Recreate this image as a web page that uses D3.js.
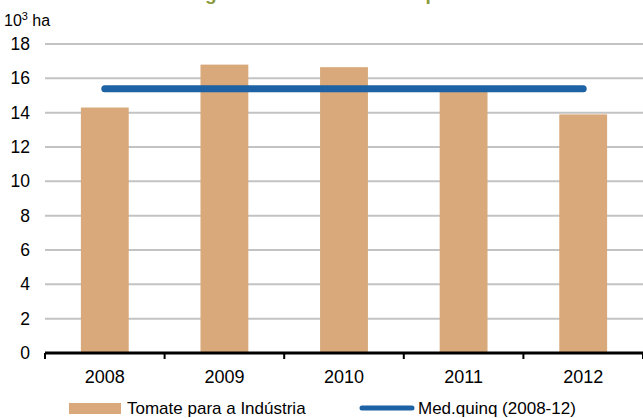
<!DOCTYPE html>
<html>
<head>
<meta charset="utf-8">
<script src="https://cdn.jsdelivr.net/npm/d3@7"></script>
<style>
  body { margin: 0; background: #fff; }
  svg text { font-family: "Liberation Sans", Arial, sans-serif; fill: #000; }
</style>
</head>
<body>
<div id="chart"></div>
<script>
// data
var years = ["2008", "2009", "2010", "2011", "2012"];
var area = [14.3, 16.8, 16.65, 15.4, 13.9];
var avg5 = [15.4, 15.4, 15.4, 15.4, 15.4];
var yTicks = [0, 2, 4, 6, 8, 10, 12, 14, 16, 18];
var barName = "Tomate para a Indústria";
var lineName = "Med.quinq (2008-12)";

var W = 643, H = 418;
var margin = {top: 44, right: 0, bottom: 65, left: 45};
var width = W - margin.left - margin.right,
    height = H - margin.top - margin.bottom;

var svg = d3.select("#chart").append("svg")
    .attr("width", W)
    .attr("height", H);

// title, cut off at the top in the original too
svg.append("text")
    .attr("x", 188)
    .attr("y", 0)
    .style("font-weight", "bold")
    .style("font-size", "19px")
    .style("fill", "#8a9a3c")
    .text("Figura 8 – Área de tomate para indústria");

svg.append("text")
    .attr("x", 4)
    .attr("y", 26)
    .style("font-size", "16px")
    .html('10<tspan dy="-6" font-size="11px">3</tspan><tspan dy="6"> ha</tspan>');

var g = svg.append("g")
    .attr("transform", "translate(" + margin.left + "," + margin.top + ")");

var x = d3.scaleBand()
    .domain(years)
    .range([0, width])
    .paddingInner(0.6)
    .paddingOuter(0.3);

var y = d3.scaleLinear()
    .domain([0, 18])
    .range([height, 0]);

// gridlines
g.selectAll(".grid")
  .data(yTicks.filter(function(d) { return d > 0; }))
  .enter().append("line")
    .attr("x1", 0)
    .attr("x2", width)
    .attr("y1", function(d) { return y(d); })
    .attr("y2", function(d) { return y(d); })
    .attr("stroke", "#c3c3c3")
    .attr("stroke-width", 2);

// y labels
g.selectAll(".ylab")
  .data(yTicks)
  .enter().append("text")
    .attr("x", -15)
    .attr("y", function(d) { return y(d); })
    .attr("dy", "0.35em")
    .attr("text-anchor", "end")
    .style("font-size", "17.5px")
    .text(function(d) { return d; });

// bars
g.selectAll("rect.bar")
  .data(area)
  .enter().append("rect")
    .attr("class", "bar")
    .attr("x", function(d, i) { return x(years[i]); })
    .attr("y", function(d) { return y(d); })
    .attr("width", x.bandwidth())
    .attr("height", function(d) { return height - y(d); })
    .attr("fill", "#d9a97b");

// five-year average line
var line = d3.line()
    .x(function(d, i) { return x(years[i]) + x.bandwidth() / 2; })
    .y(function(d) { return y(d); });

g.append("path")
    .datum(avg5)
    .attr("d", line)
    .attr("fill", "none")
    .attr("stroke", "#1c62a4")
    .attr("stroke-width", 7)
    .attr("stroke-linecap", "round");

// x axis: line with ticks at category boundaries
var step = x.step();
var x0 = x(years[0]) - x.paddingOuter() * step;
g.append("line")
    .attr("x1", 0).attr("x2", width)
    .attr("y1", height).attr("y2", height)
    .attr("stroke", "#000")
    .attr("stroke-width", 3);

g.selectAll(".tick")
  .data(d3.range(years.length + 1))
  .enter().append("line")
    .attr("x1", function(i) { return x0 + i * step; })
    .attr("x2", function(i) { return x0 + i * step; })
    .attr("y1", height)
    .attr("y2", height + 6)
    .attr("stroke", "#000")
    .attr("stroke-width", 2);

g.selectAll(".xlab")
  .data(years)
  .enter().append("text")
    .attr("x", function(d) { return x(d) + x.bandwidth() / 2; })
    .attr("y", height + 30)
    .attr("text-anchor", "middle")
    .style("font-size", "18px")
    .text(function(d) { return d; });

// legend
var leg = svg.append("g").attr("transform", "translate(0," + 408 + ")");
leg.append("rect")
    .attr("x", 69).attr("y", -5)
    .attr("width", 52).attr("height", 11)
    .attr("fill", "#d9a97b");
leg.append("text")
    .attr("x", 127).attr("y", 0)
    .attr("dy", "0.35em")
    .style("font-size", "17px")
    .text(barName);
leg.append("line")
    .attr("x1", 362).attr("x2", 412)
    .attr("y1", 0).attr("y2", 0)
    .attr("stroke", "#1c62a4")
    .attr("stroke-width", 5)
    .attr("stroke-linecap", "round");
leg.append("text")
    .attr("x", 418).attr("y", 0)
    .attr("dy", "0.35em")
    .style("font-size", "17px")
    .text(lineName);
</script>
</body>
</html>
